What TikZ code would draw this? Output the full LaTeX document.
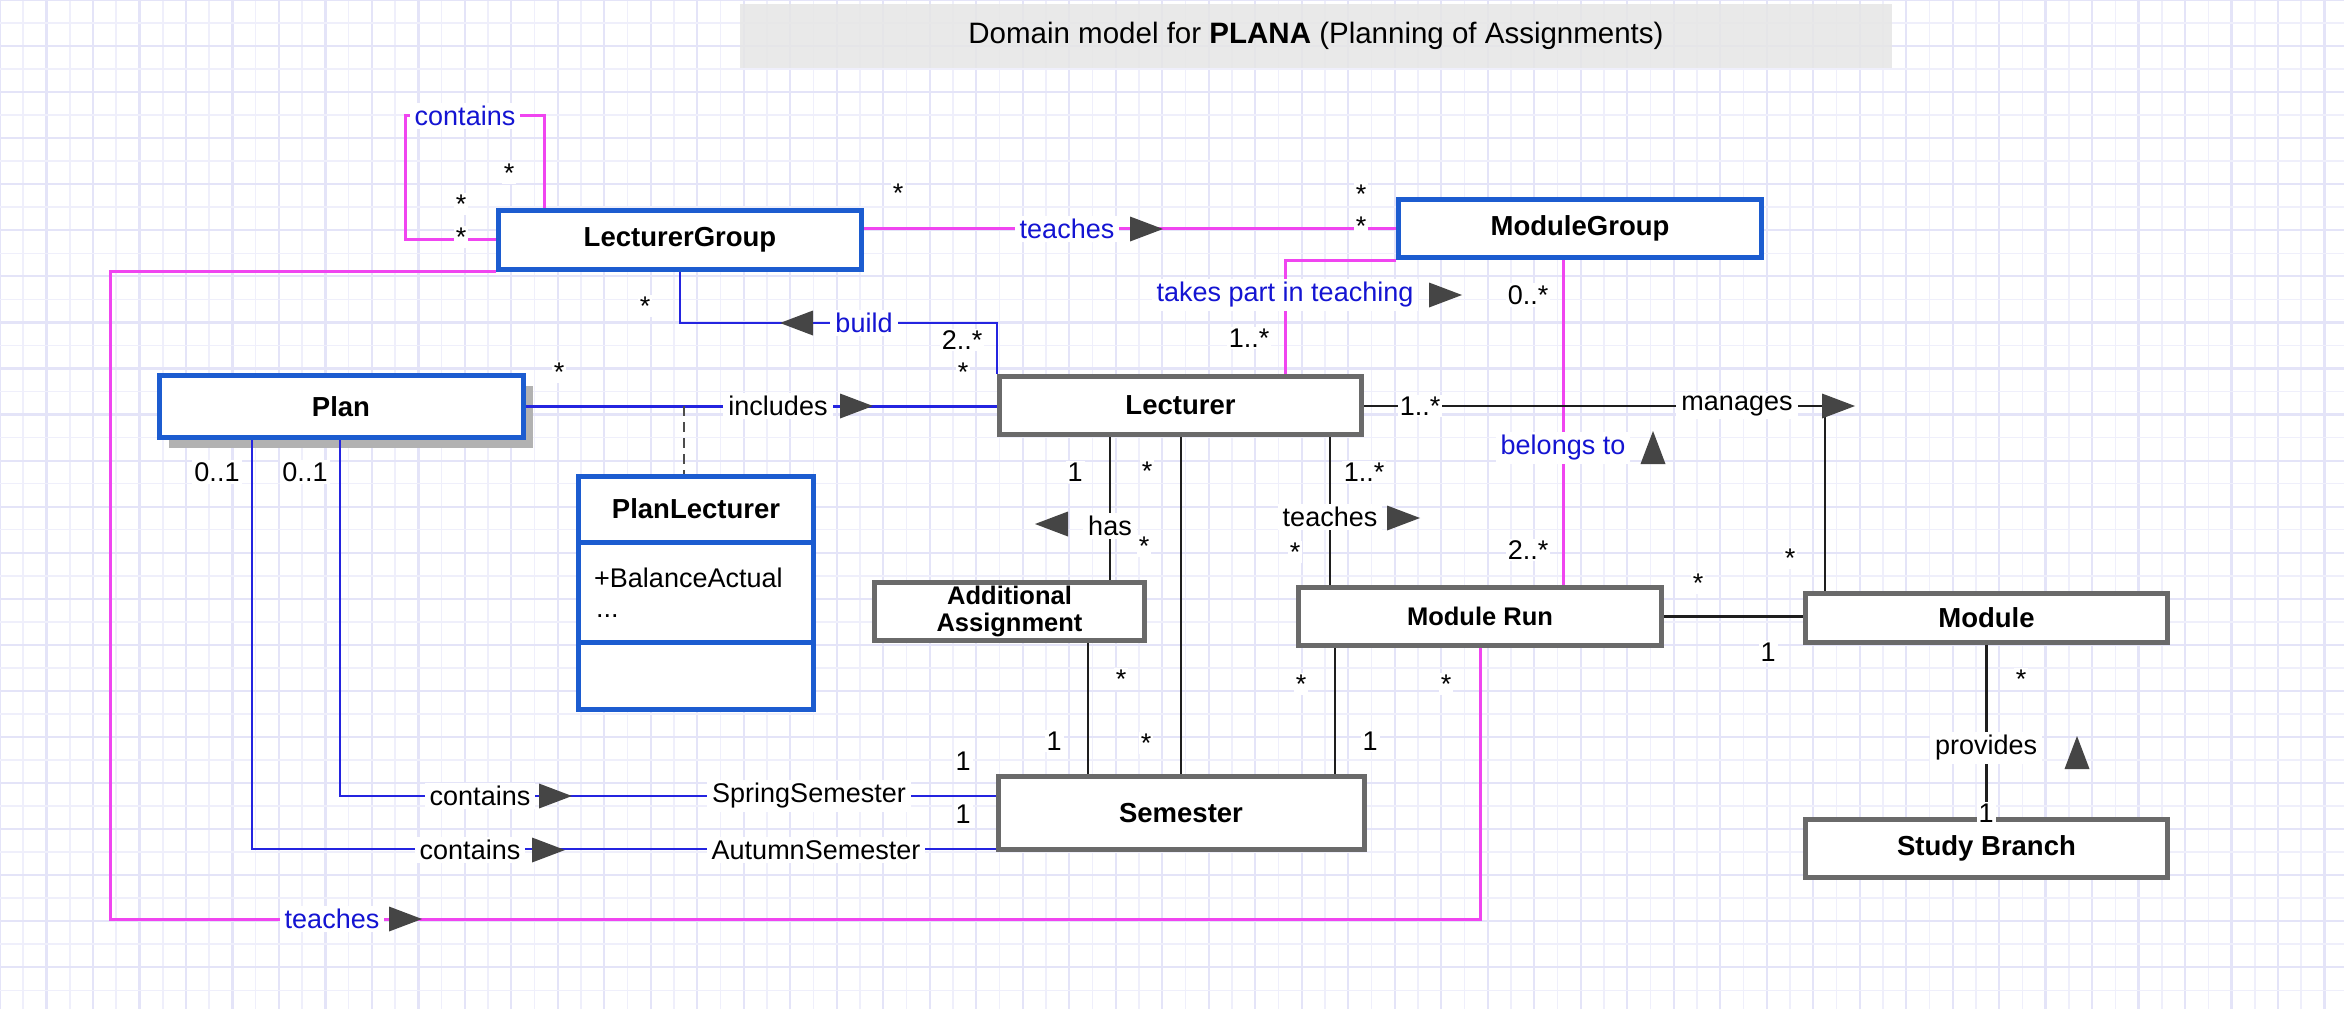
\documentclass[tikz,border=0pt]{standalone}
\usepackage{fontspec}
\setmainfont{Liberation Sans}
\usetikzlibrary{shadows}
\definecolor{gridminor}{HTML}{EFEFFB}
\definecolor{gridmajor}{HTML}{E4E4F8}
\definecolor{classblue}{HTML}{1C5CD0}
\definecolor{classgray}{HTML}{6A6A6A}
\definecolor{assocpink}{HTML}{F045F0}
\definecolor{assocblue}{HTML}{2424E0}
\definecolor{labelblue}{HTML}{1414D2}
\definecolor{arrowgray}{HTML}{454545}
\definecolor{linegray}{HTML}{1E1E1E}
\definecolor{titlegray}{HTML}{E6E6E6}
\newcommand\lblfont{\fontsize{27}{31}\selectfont}
\newcommand\clsfont{\fontsize{27.5}{31}\selectfont\bfseries}
\newcommand\clssmall{\fontsize{25.5}{27}\selectfont\bfseries}
\newcommand\arrR[2]{\fill[arrowfill] (#1-16,#2-12.5) -- (#1+17,#2) -- (#1-16,#2+12.5) -- cycle;}
\newcommand\arrL[2]{\fill[arrowfill] (#1+16,#2-12.5) -- (#1-17,#2) -- (#1+16,#2+12.5) -- cycle;}
\newcommand\arrU[2]{\fill[arrowfill] (#1-12.5,#2+16) -- (#1,#2-17) -- (#1+12.5,#2+16) -- cycle;}
\tikzset{
  bluecls/.style={draw=classblue, line width=5pt, fill=white, inner sep=0pt, font=\clsfont},
  graycls/.style={draw=classgray, line width=5pt, fill=white, inner sep=0pt, font=\clsfont},
  pinkline/.style={draw=assocpink, line width=3pt},
  blueline/.style={draw=assocblue, line width=2.8pt},
  blackline/.style={draw=linegray, line width=2.6pt},
  assocname/.style={fill=white, inner xsep=5pt, inner ysep=3pt, font=\lblfont, text=labelblue},
  rolename/.style={fill=white, inner xsep=5pt, inner ysep=3pt, font=\lblfont, text=black},
  mult/.style={fill=white, inner sep=2pt, font=\lblfont},
  star/.style={mult, yshift=-6pt},
  arrowfill/.style={fill=arrowgray},
}
\begin{document}
\begin{tikzpicture}[x=1pt,y=-1pt]
\useasboundingbox (0,0) rectangle (2344,1009);
\fill[white] (0,0) rectangle (2344,1009);
% grid
\foreach \k in {1,3,...,101} \draw[gridminor, line width=1.6pt] (\k*23.245,0) -- (\k*23.245,1009);
\foreach \k in {0,2,...,101} \draw[gridmajor, line width=2.2pt] (\k*23.245,0) -- (\k*23.245,1009);
\foreach \k in {1,3,...,44} \draw[gridminor, line width=1.6pt] (0,\k*23.03) -- (2344,\k*23.03);
\foreach \k in {0,2,...,44} \draw[gridmajor, line width=2.2pt] (0,\k*23.03) -- (2344,\k*23.03);

% title
\node[fill=titlegray, fill opacity=0.88, text opacity=1, minimum width=1152pt, minimum height=64pt,
      inner sep=0pt, font=\fontsize{29.5}{33}\selectfont] (title) at (1316,36)
      {Domain model for \textbf{PLANA} (Planning of Assignments)};

% classes
\node[bluecls, minimum width=363pt, minimum height=59pt] (LG) at (680,240) {LecturerGroup};
\node[bluecls, minimum width=363pt, minimum height=58pt] (MG) at (1580,228.5) {ModuleGroup};
\node[bluecls, minimum width=364pt, minimum height=62pt,
      drop shadow={shadow xshift=10pt, shadow yshift=-10pt, fill=black!30, opacity=1}] (Plan) at (341,406.5) {Plan};
\node[graycls, minimum width=362pt, minimum height=58pt] (Lecturer) at (1180.5,405.5) {Lecturer};
\node[bluecls, minimum width=235pt, minimum height=233pt] (PL) at (696,593) {};
\node[graycls, minimum width=270pt, minimum height=58pt, font=\clssmall, align=center] (AA) at (1009.5,611.5) {Additional\\Assignment};
\node[graycls, minimum width=363pt, minimum height=58pt, font=\clssmall] (MR) at (1480,616.5) {Module Run};
\node[graycls, minimum width=362pt, minimum height=49pt] (Module) at (1986.5,618) {Module};
\node[graycls, minimum width=362pt, minimum height=58pt] (SB) at (1986.5,848.5) {Study Branch};
\node[graycls, minimum width=366pt, minimum height=73pt] (Semester) at (1181,813) {Semester};

% PlanLecturer compartments
\coordinate (dv1) at (0,542);
\coordinate (dv2) at (0,642);
\draw[draw=classblue, line width=5pt] (PL.west |- dv1) -- (PL.east |- dv1);
\draw[draw=classblue, line width=5pt] (PL.west |- dv2) -- (PL.east |- dv2);
\node[font=\clsfont, inner sep=0pt] (PLt) at (696,509) {PlanLecturer};
\node[anchor=base west, font=\lblfont, inner sep=0pt] (PLa) at (594,587) {+BalanceActual};
\node[anchor=base west, font=\lblfont, inner sep=0pt] (PLb) at (596,617) {...};

% bend points
\coordinate (cA) at (544,115);
\coordinate (cB) at (405,115);
\coordinate (cC) at (405,239);
\coordinate (tA) at (110,271);
\coordinate (tB) at (110,919);
\coordinate (bA) at (0,323);
\coordinate (dA) at (684,406);
\coordinate (sA) at (340,796);
\coordinate (aA) at (252,849);
\coordinate (kA) at (1285,260);
\coordinate (bx) at (1563,0);
\coordinate (mA) at (1825,406);
\coordinate (hx) at (1110,0);
\coordinate (lx) at (1181,0);
\coordinate (tx) at (1330,0);
\coordinate (ax) at (1088,0);
\coordinate (rx) at (1335,0);

% connectors
\draw[pinkline] (LG.north -| cA) -- (cA) -- (cB) -- (cC) -- (LG.west |- cC);
\draw[pinkline] (LG.east |- MG.west) -- (MG.west);
\draw[pinkline] (LG.west |- tA) -- (tA) -- (tB) -- (MR.south |- tB) -- (MR.south);
\draw[blueline] (LG.south) -- (LG.south |- bA) -- (Lecturer.north west |- bA) -- (Lecturer.north west);
\draw[blueline] (Plan.east) -- (Plan.east -| Lecturer.west);
\draw[draw=black!70, line width=2.5pt, dash pattern=on 10pt off 6pt] (dA) -- (PL.north -| dA);
\draw[blueline] (Plan.south -| sA) -- (sA) -- (Semester.west |- sA);
\draw[blueline] (Plan.south -| aA) -- (aA) -- (Semester.west |- aA);
\draw[pinkline] (MG.south west) -- (kA) -- (Lecturer.north -| kA);
\draw[pinkline] (MG.south -| bx) -- (MR.north -| bx);
\draw[blackline] (Lecturer.east |- mA) -- (mA) -- (Module.north -| mA);
\draw[blackline] (Lecturer.south -| hx) -- (AA.north -| hx);
\draw[blackline] (Lecturer.south -| lx) -- (Semester.north -| lx);
\draw[blackline] (Lecturer.south -| tx) -- (MR.north -| tx);
\draw[blackline] (AA.south -| ax) -- (Semester.north -| ax);
\draw[blackline] (MR.south -| rx) -- (Semester.north -| rx);
\draw[blackline] (MR.east) -- (MR.east -| Module.west);
\draw[blackline] (Module.south) -- (SB.north);

% association names
\node[assocname] (nContains) at (465,116) {contains};
\node[assocname] (nTeachesTop) at (1067,229) {teaches};
\node[assocname] (nBuild) at (864,323) {build};
\node[assocname] (nTakes) at (1285,295) {takes part in teaching};
\node[assocname] (nBelongs) at (1563,448) {belongs to};
\node[assocname] (nTeachesBot) at (332,919) {teaches};
\node[rolename] (nIncludes) at (778,406) {includes};
\node[rolename] (nContSp) at (480,796) {contains};
\node[rolename] (nSpring) at (809,796) {SpringSemester};
\node[rolename] (nContAu) at (470,850) {contains};
\node[rolename] (nAutumn) at (816,850) {AutumnSemester};
\node[rolename] (nManages) at (1737,406) {manages};
\node[rolename] (nHas) at (1110,526) {has};
\node[rolename] (nTeachesL) at (1330,517) {teaches};
\node[rolename] (nProvides) at (1986,748) {provides};

% direction arrows
\arrR{1146}{229}
\arrL{797}{323}
\arrR{856}{406}
\arrR{1445}{295}
\arrU{1653}{448}
\arrR{1838}{406}
\arrL{1052}{524}
\arrR{1403}{518}
\arrR{555}{796}
\arrR{548}{850}
\arrR{405}{919}
\arrU{2077}{753}

% multiplicities
\node[star] (m1) at (509,167) {*};
\node[star] (m2) at (461,198) {*};
\node[star] (m3) at (461,231) {*};
\node[star] (m4) at (898,187) {*};
\node[star] (m5) at (1361,188) {*};
\node[star] (m6) at (1361,220) {*};
\node[star] (m7) at (645,300) {*};
\node[mult] (m8) at (962,340) {2..*};
\node[star] (m9) at (559,366) {*};
\node[star] (m10) at (963,366) {*};
\node[mult] (m11) at (217,472) {0..1};
\node[mult] (m12) at (305,472) {0..1};
\node[mult] (m13) at (963,761) {1};
\node[mult] (m14) at (963,814) {1};
\node[mult] (m15) at (1249,338) {1..*};
\node[mult] (m16) at (1528,295) {0..*};
\node[mult] (m17) at (1528,550) {2..*};
\node[mult] (m18) at (1420,406) {1..*};
\node[star] (m19) at (1790,552) {*};
\node[mult] (m20) at (1075,472) {1};
\node[star] (m21) at (1144,540) {*};
\node[star] (m22) at (1147,465) {*};
\node[star] (m23) at (1146,737) {*};
\node[mult] (m24) at (1364,472) {1..*};
\node[star] (m25) at (1295,546) {*};
\node[star] (m26) at (1121,673) {*};
\node[mult] (m27) at (1054,741) {1};
\node[star] (m28) at (1301,678) {*};
\node[mult] (m29) at (1370,741) {1};
\node[star] (m30) at (1446,678) {*};
\node[star] (m31) at (1698,577) {*};
\node[mult] (m32) at (1768,652) {1};
\node[star] (m33) at (2021,673) {*};
\node[mult] (m34) at (1986,813) {1};
\end{tikzpicture}
\end{document}
